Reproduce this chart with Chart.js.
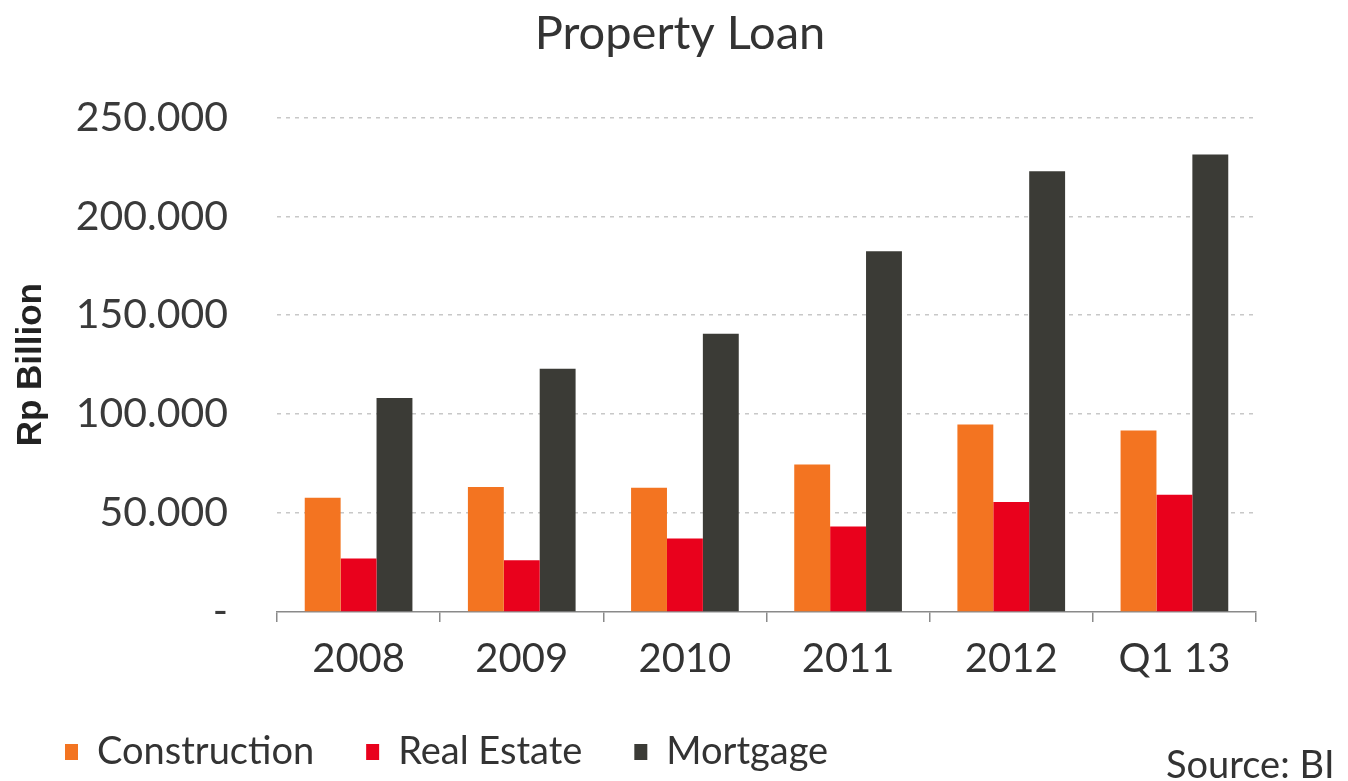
<!DOCTYPE html>
<html>
<head>
<meta charset="utf-8">
<title>Property Loan</title>
<script src="https://cdn.jsdelivr.net/npm/chart.js@4/dist/chart.umd.min.js"></script>
<style>
  html, body { margin: 0; padding: 0; background: #fff; }
  #wrap { width: 1348px; height: 781px; position: relative; }
</style>
</head>
<body>
<div id="wrap"><canvas id="loanChart" width="1348" height="781"></canvas></div>
<script>
// Property loans by type, Rp billion
const years = ["2008", "2009", "2010", "2011", "2012", "Q1 13"];
const construction = [57700, 63200, 62800, 74500, 94800, 91700];
const realEstate = [27000, 26200, 37200, 43200, 55600, 59300];
const mortgage = [108200, 123000, 140600, 182400, 222800, 231300];
const yTicks = [0, 50000, 100000, 150000, 200000, 250000];

const FONT = "Lato, 'Open Sans', sans-serif";
const TEXT = "#333333";

// shift title and legend a little, then write the source note bottom-right
const extras = {
    id: "extras",
    afterLayout(chart) {
        const tb = chart.titleBlock;
        if (tb) { tb.left += 47; tb.right += 47; }
        const lg = chart.legend;
        if (lg) { lg.left += 3; lg.right += 3; }
    },
    afterDraw(chart) {
        const ctx = chart.ctx;
        ctx.save();
        ctx.font = "38px " + FONT;
        ctx.fillStyle = TEXT;
        ctx.textAlign = "left";
        ctx.textBaseline = "middle";
        ctx.fillText("Source: BI", 1166, 766);
        ctx.restore();
    }
};

function fmt(v) {
    if (v === 0) return "-";
    return v.toString().replace(/\B(?=(\d{3})+(?!\d))/g, ".");
}

new Chart(document.getElementById("loanChart"), {
    type: "bar",
    data: {
        labels: years,
        datasets: [
            { label: "Construction", data: construction, backgroundColor: "#F37421" },
            { label: "Real Estate", data: realEstate, backgroundColor: "#E9011C" },
            { label: "Mortgage", data: mortgage, backgroundColor: "#3B3B36" }
        ]
    },
    options: {
        responsive: false,
        animation: false,
        layout: { padding: { left: 10, right: 92, top: 0, bottom: 0 } },
        datasets: { bar: { categoryPercentage: 0.66, barPercentage: 1 } },
        plugins: {
            title: {
                display: true,
                text: "Property Loan",
                color: TEXT,
                font: { family: FONT, size: 47, weight: "normal" },
                padding: { top: 6, bottom: 55 }
            },
            legend: {
                position: "bottom",
                align: "start",
                labels: {
                    boxWidth: 13,
                    boxHeight: 16,
                    padding: 52,
                    color: TEXT,
                    font: { family: FONT, size: 38 }
                }
            },
            tooltip: { enabled: false }
        },
        scales: {
            x: {
                grid: {
                    drawOnChartArea: false,
                    drawTicks: true,
                    tickLength: 10,
                    color: "#8a8a8a",
                    lineWidth: 1.5
                },
                border: { color: "#8a8a8a", width: 1.5 },
                ticks: {
                    color: TEXT,
                    padding: 13,
                    font: { family: FONT, size: 40 }
                },
                afterFit(scale) { scale.height = 69; }
            },
            y: {
                min: 0,
                max: 250000,
                afterBuildTicks(scale) { scale.ticks = yTicks.map(v => ({ value: v })); },
                grid: {
                    drawTicks: false,
                    color: (c) => c.tick && c.tick.value === 0 ? "rgba(0,0,0,0)" : "#c8c8c8",
                    lineWidth: 1.5
                },
                border: { display: false, dash: [4, 5] },
                ticks: {
                    color: "#3a3a3a",
                    padding: 49,
                    font: { family: FONT, size: 41 },
                    callback: (v) => fmt(v)
                },
                title: {
                    display: true,
                    text: "Rp Billion",
                    color: "#222",
                    font: { family: "'Liberation Sans', Arial, sans-serif", size: 35, weight: "bold" },
                    padding: { top: 0, bottom: 0 }
                },
                afterFit(scale) { scale.width = 267; }
            }
        }
    },
    plugins: [extras]
});
</script>
</body>
</html>
